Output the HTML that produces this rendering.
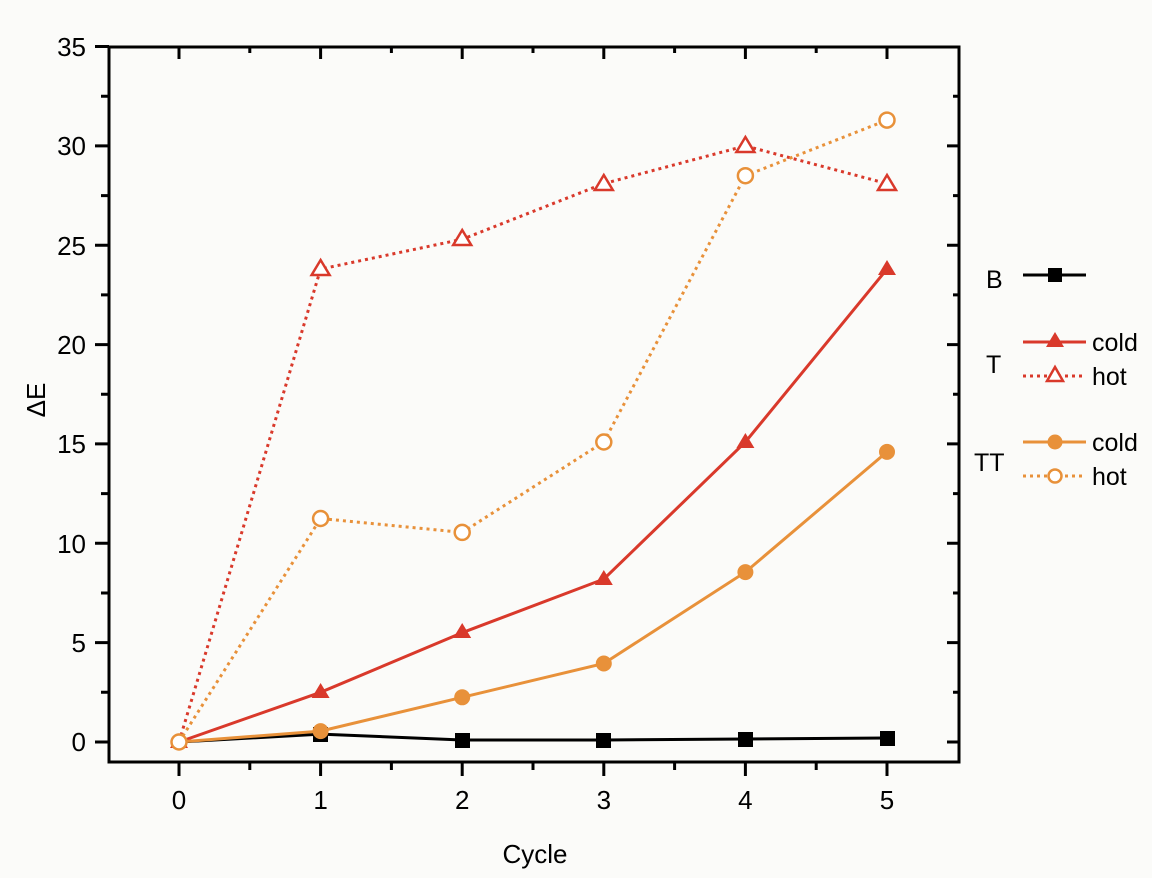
<!DOCTYPE html>
<html><head><meta charset="utf-8"><style>
html,body{margin:0;padding:0;background:#fbfbf9;}
svg{display:block;font-family:"Liberation Sans",Arial,sans-serif;}
</style></head><body>
<svg width="1152" height="878" viewBox="0 0 1152 878">
<g stroke="#000" stroke-width="3" fill="none">
<rect x="109" y="47" width="850" height="715"/>
<path d="M95 742H109M95 642.6H109M95 543.3H109M95 443.9H109M95 344.6H109M95 245.2H109M95 145.9H109M95 46.5H109"/>
<path d="M101 692.3H109M101 593H109M101 493.6H109M101 394.3H109M101 294.9H109M101 195.6H109M101 96.2H109"/>
<path d="M959 742H947M959 642.6H947M959 543.3H947M959 443.9H947M959 344.6H947M959 245.2H947M959 145.9H947"/>
<path d="M959 692.3H953M959 593H953M959 493.6H953M959 394.3H953M959 294.9H953M959 195.6H953M959 96.2H953"/>
<path d="M179 762V776M320.6 762V776M462.2 762V776M603.8 762V776M745.4 762V776M887 762V776"/>
<path d="M249.8 762V770M391.4 762V770M533 762V770M674.6 762V770M816.2 762V770"/>
<path d="M179 47V59M320.6 47V59M462.2 47V59M603.8 47V59M745.4 47V59M887 47V59"/>
<path d="M249.8 47V53M391.4 47V53M533 47V53M674.6 47V53M816.2 47V53"/>
</g>
<g font-size="26" fill="#000" text-anchor="end">
<text x="86" y="751">0</text><text x="86" y="652">5</text><text x="86" y="553">10</text><text x="86" y="453">15</text><text x="86" y="354">20</text><text x="86" y="255">25</text><text x="86" y="155">30</text><text x="86" y="56">35</text>
</g>
<g font-size="26" fill="#000" text-anchor="middle">
<text x="179" y="809">0</text><text x="320.6" y="809">1</text><text x="462.2" y="809">2</text><text x="603.8" y="809">3</text><text x="745.4" y="809">4</text><text x="887" y="809">5</text>
<text x="535" y="863">Cycle</text>
<text transform="translate(45,400) rotate(-90)">ΔE</text>
</g>
<g fill="none" stroke-width="3">
<polyline stroke="#000" points="179,742 320.6,734.1 462.2,740 603.8,740 745.4,739 887,738"/>
<polyline stroke="#d9392b" stroke-dasharray="3,4" points="179,742 320.6,269.1 462.2,239.3 603.8,183.6 745.4,145.9 887,183.6"/>
<polyline stroke="#e8913a" stroke-dasharray="3,4" points="179,742 320.6,518.5 462.2,532.4 603.8,442 745.4,175.7 887,120.1"/>
<polyline stroke="#d9392b" points="179,742 320.6,692.3 462.2,632.7 603.8,579.1 745.4,442 887,269.1"/>
<polyline stroke="#e8913a" points="179,742 320.6,731.1 462.2,697.3 603.8,663.5 745.4,572.1 887,451.9"/>
</g>
<g fill="#000">
<rect x="313" y="727" width="15" height="15"/><rect x="455" y="733" width="15" height="15"/><rect x="596" y="733" width="15" height="15"/><rect x="738" y="732" width="15" height="15"/><rect x="880" y="731" width="15" height="15"/>
</g>
<g fill="#d9392b">
<path d="M320.6 683l9 15h-18z M462.2 623l9 15h-18z M603.8 570l9 15h-18z M745.4 433l9 15h-18z M887 260l9 15h-18z M179 733l9 15h-18z"/>
</g>
<g fill="#fff" stroke="#d9392b" stroke-width="2.5">
<path d="M320.6 260l9 15h-18z M462.2 230l9 15h-18z M603.8 175l9 15h-18z M745.4 137l9 15h-18z M887 175l9 15h-18z"/>
</g>
<g fill="#e8913a">
<circle cx="320.6" cy="731.1" r="8"/><circle cx="462.2" cy="697.3" r="8"/><circle cx="603.8" cy="663.5" r="8"/><circle cx="745.4" cy="572.1" r="8"/><circle cx="887" cy="451.9" r="8"/>
</g>
<g fill="#fff" stroke="#e8913a" stroke-width="2.5">
<circle cx="179" cy="742" r="7.5"/><circle cx="320.6" cy="518.5" r="7.5"/><circle cx="462.2" cy="532.4" r="7.5"/><circle cx="603.8" cy="442" r="7.5"/><circle cx="745.4" cy="175.7" r="7.5"/><circle cx="887" cy="120.1" r="7.5"/>
</g>
<g font-size="25" fill="#000">
<text x="986" y="288">B</text>
<text x="986" y="373">T</text>
<text x="974" y="471">TT</text>
<text x="1092" y="351">cold</text><text x="1092" y="385">hot</text>
<text x="1092" y="451">cold</text><text x="1092" y="485">hot</text>
</g>
<g stroke-width="3" fill="none">
<path stroke="#000" d="M1023 275H1086"/>
<path stroke="#d9392b" d="M1023 342H1086"/>
<path stroke="#d9392b" stroke-dasharray="3,4" d="M1023 376H1086"/>
<path stroke="#e8913a" d="M1023 442H1086"/>
<path stroke="#e8913a" stroke-dasharray="3,4" d="M1023 476H1086"/>
</g>
<rect x="1048" y="268" width="14" height="14" fill="#000"/>
<path d="M1055 332l9 15h-18z" fill="#d9392b"/>
<path d="M1055 367l8 14h-16z" fill="#fff" stroke="#d9392b" stroke-width="2.5"/>
<circle cx="1055" cy="442" r="7.5" fill="#e8913a"/>
<circle cx="1055" cy="476" r="6.5" fill="#fff" stroke="#e8913a" stroke-width="2.5"/>
</svg>
</body></html>
